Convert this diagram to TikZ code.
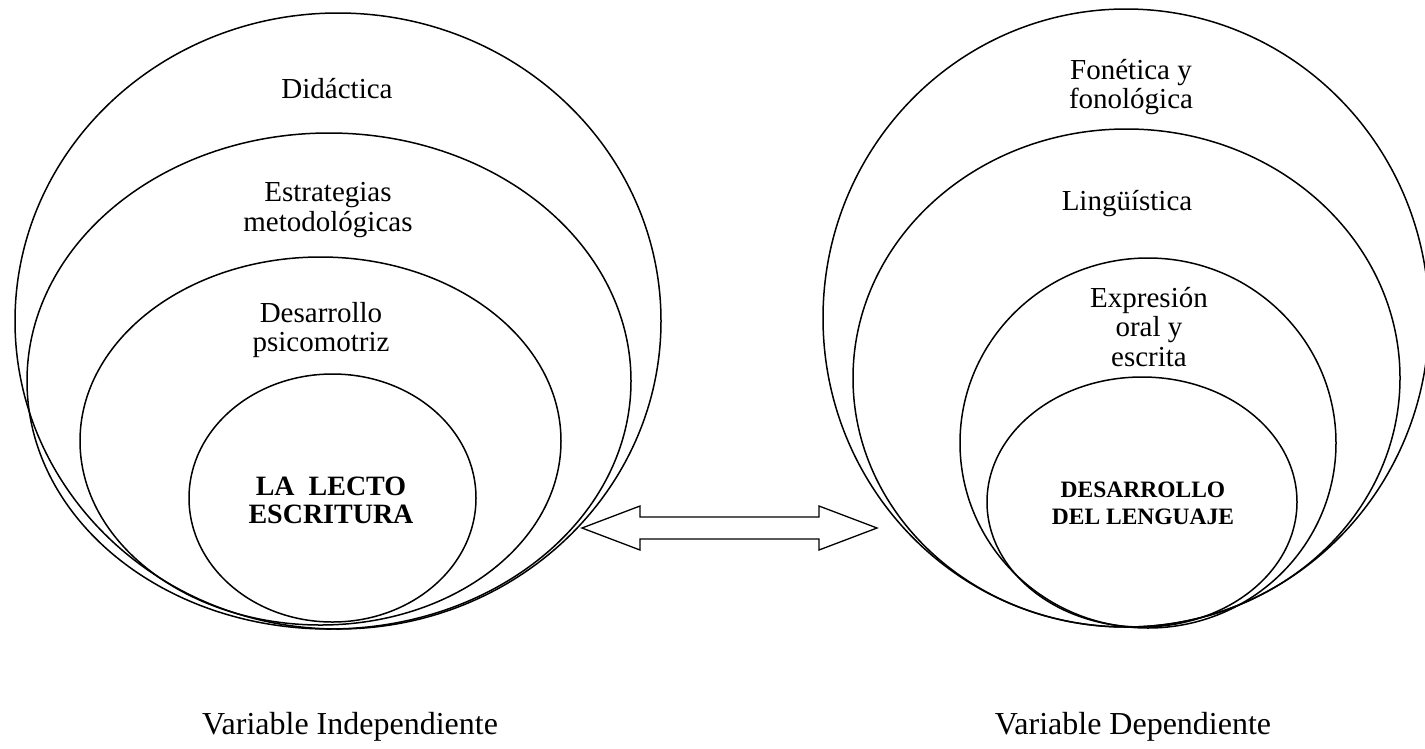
\documentclass[tikz,border=0pt]{standalone}
\usepackage{fontspec}
\setmainfont{Liberation Serif}
\usetikzlibrary{shapes.geometric}
\begin{document}
\begin{tikzpicture}[x=1pt,y=-1pt,
  ring/.style={draw, ellipse, line width=1.5pt, inner sep=0pt},
  lbl/.style={align=center, font=\fontsize{29}{29.5}\selectfont, inner sep=0pt},
  core/.style={align=center, font=\fontsize{28}{28}\selectfont\bfseries, inner sep=0pt},
  coreb/.style={align=center, font=\fontsize{23.5}{27}\selectfont\bfseries, inner sep=0pt},
  var/.style={font=\fontsize{32}{32}\selectfont, inner sep=0pt},
  blockarrow/.style={draw, line width=1.3pt, line join=miter}]
\useasboundingbox (0,0) rectangle (1425,748);
% left group
\node[ring, minimum width=646pt, minimum height=616pt] (L1) at (338,321) {};
\node[ring, minimum width=604pt, minimum height=496pt] (L2) at (329,381) {};
\node[ring, minimum width=481pt, minimum height=368pt] (L3) at (320.5,441) {};
\node[ring, minimum width=287pt, minimum height=248pt] (L4) at (332.5,498) {};
\node[lbl] (tL1) at (337,89) {Didáctica};
\node[lbl] (tL2) at (328,210) {Estrategias\\metodológicas};
\node[lbl] (tL3) at (321,330) {Desarrollo\\psicomotriz};
\node[core] (tL4) at (331,500) {LA\ \ LECTO\\ESCRITURA};
\node[var] (vL) at (350,727) {Variable Independiente};
% right group
\node[ring, minimum width=606pt, minimum height=618pt] (R1) at (1126,318) {};
\node[ring, minimum width=547pt, minimum height=498pt] (R2) at (1126.5,378) {};
\node[ring, minimum width=376pt, minimum height=370pt] (R3) at (1148,443) {};
\node[ring, minimum width=310pt, minimum height=250pt] (R4) at (1142,502) {};
\node[lbl] (tR1) at (1131,87) {Fonética y\\fonológica};
\node[lbl] (tR2) at (1127,204) {Lingüística};
\node[lbl] (tR3) at (1149,327) {Expresión\\oral y\\escrita};
\node[coreb] (tR4) at (1143,503) {DESARROLLO\\DEL LENGUAJE};
\node[var] (vR) at (1133,727) {Variable Dependiente};
% double block arrow
\draw[blockarrow] (582,528) -- (640,506) -- (640,517) -- (819,517) -- (819,506) -- (877,528)
  -- (819,550) -- (819,539) -- (640,539) -- (640,550) -- cycle;
\end{tikzpicture}
\end{document}
